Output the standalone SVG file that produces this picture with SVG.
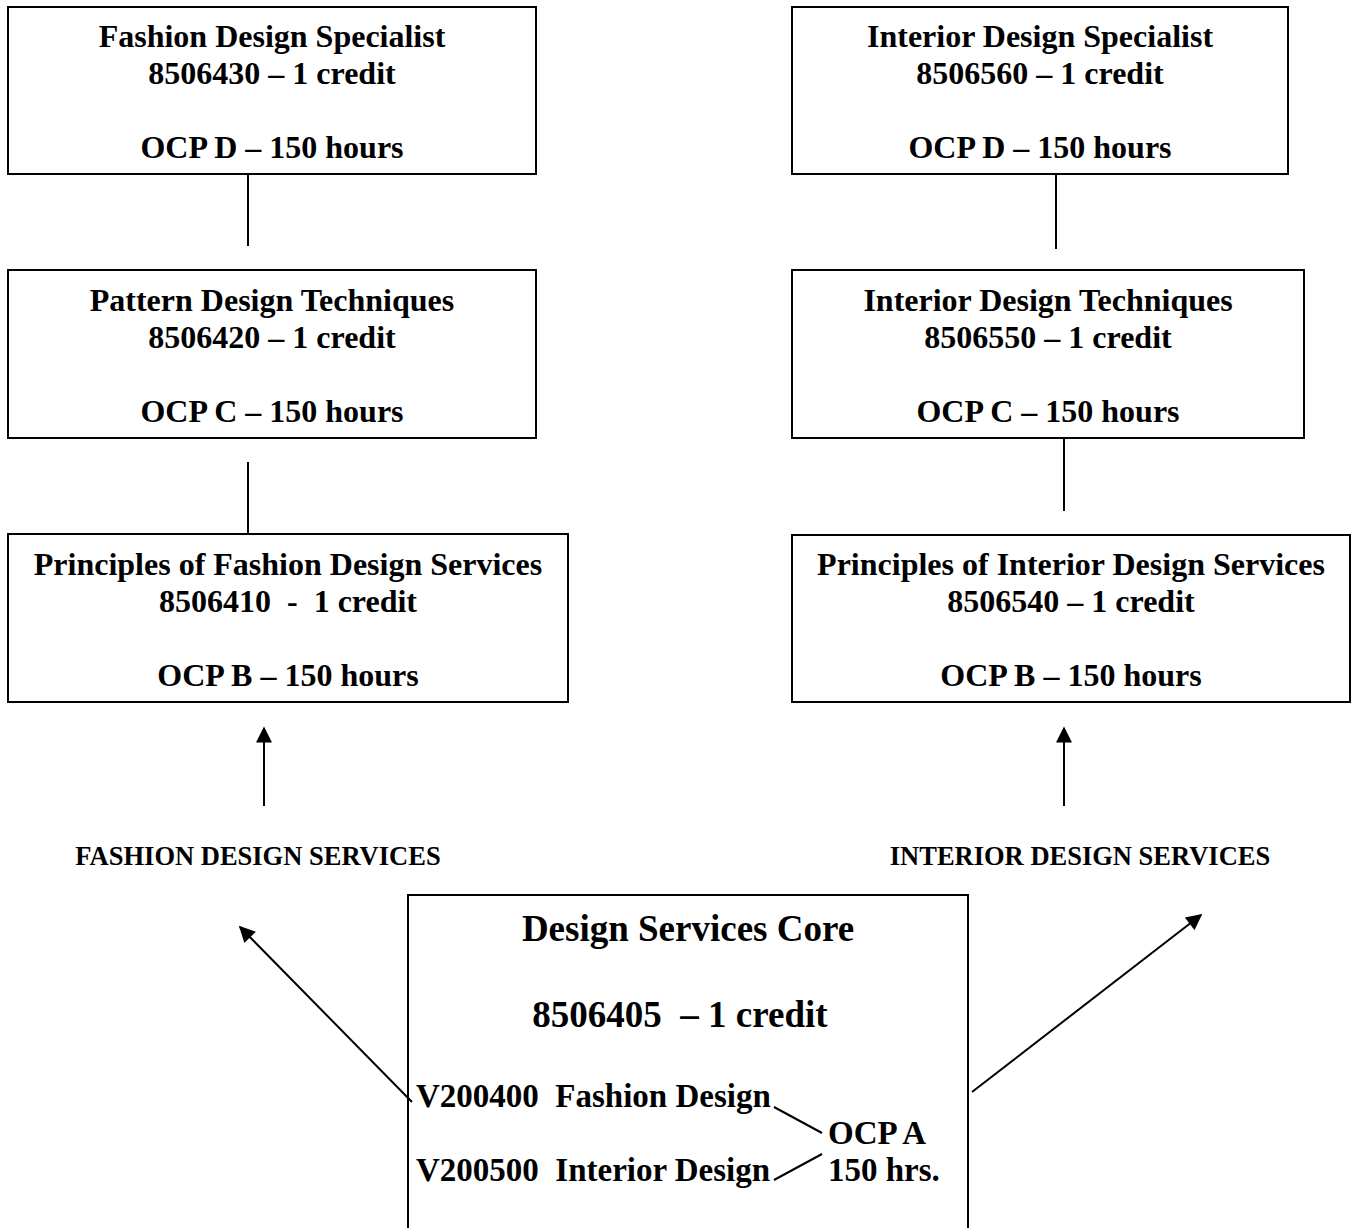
<svg xmlns="http://www.w3.org/2000/svg" width="1352" height="1228" viewBox="0 0 1352 1228">
<defs>
<style>
.box{fill:#fff;stroke:#000;stroke-width:2}
.t{font-family:"Liberation Serif","Times New Roman",serif;font-weight:bold;font-size:32px;fill:#000;text-anchor:middle}
.h{font-family:"Liberation Serif","Times New Roman",serif;font-weight:bold;font-size:26.5px;fill:#000;text-anchor:middle}
.c{font-family:"Liberation Serif","Times New Roman",serif;font-weight:bold;font-size:37px;fill:#000;text-anchor:middle}
.l{font-family:"Liberation Serif","Times New Roman",serif;font-weight:bold;font-size:33px;fill:#000}
.ln{stroke:#000;stroke-width:2;fill:none}
</style>
<marker id="ah" viewBox="0 0 10 10" refX="9" refY="5" markerWidth="8.5" markerHeight="8" markerUnits="strokeWidth" orient="auto">
<path d="M0,0 L10,5 L0,10 z" fill="#000"/>
</marker>
</defs>
<rect width="1352" height="1228" fill="#fff"/>
<g id="fashion-specialist">
<rect class="box" x="8" y="7" width="528" height="167"/>
<text class="t" x="272" y="47">Fashion Design Specialist</text>
<text class="t" x="272" y="84">8506430 – 1 credit</text>
<text class="t" x="272" y="158">OCP D – 150 hours</text>
</g>
<g id="pattern-design">
<rect class="box" x="8" y="270" width="528" height="168"/>
<text class="t" x="272" y="311">Pattern Design Techniques</text>
<text class="t" x="272" y="348">8506420 – 1 credit</text>
<text class="t" x="272" y="422">OCP C – 150 hours</text>
</g>
<g id="principles-fashion">
<rect class="box" x="8" y="534" width="560" height="168"/>
<text class="t" x="288" y="575">Principles of Fashion Design Services</text>
<text class="t" x="288" y="612" xml:space="preserve">8506410  -  1 credit</text>
<text class="t" x="288" y="686">OCP B – 150 hours</text>
</g>
<g id="interior-specialist">
<rect class="box" x="792" y="7" width="496" height="167"/>
<text class="t" x="1040" y="47">Interior Design Specialist</text>
<text class="t" x="1040" y="84">8506560 – 1 credit</text>
<text class="t" x="1040" y="158">OCP D – 150 hours</text>
</g>
<g id="interior-techniques">
<rect class="box" x="792" y="270" width="512" height="168"/>
<text class="t" x="1048" y="311">Interior Design Techniques</text>
<text class="t" x="1048" y="348">8506550 – 1 credit</text>
<text class="t" x="1048" y="422">OCP C – 150 hours</text>
</g>
<g id="principles-interior">
<rect class="box" x="792" y="535" width="558" height="167"/>
<text class="t" x="1071" y="575">Principles of Interior Design Services</text>
<text class="t" x="1071" y="612">8506540 – 1 credit</text>
<text class="t" x="1071" y="686">OCP B – 150 hours</text>
</g>
<g id="label-fashion">
<text class="h" x="258" y="865">FASHION DESIGN SERVICES</text>
</g>
<g id="label-interior">
<text class="h" x="1080" y="865">INTERIOR DESIGN SERVICES</text>
</g>
<g id="core">
<rect class="box" x="408" y="895" width="560" height="345"/>
<text class="c" x="688" y="941">Design Services Core</text>
<text class="c" x="680" y="1027" xml:space="preserve">8506405  – 1 credit</text>
<text class="l" x="416" y="1107" xml:space="preserve">V200400  Fashion Design</text>
<text class="l" x="416" y="1181" xml:space="preserve">V200500  Interior Design</text>
<text class="l" x="828" y="1144">OCP A</text>
<text class="l" x="828" y="1181">150 hrs.</text>
<line class="ln" x1="774" y1="1107" x2="822" y2="1133"/>
<line class="ln" x1="774" y1="1180" x2="822" y2="1154"/>
</g>
<g id="connectors">
<line class="ln" x1="248" y1="174" x2="248" y2="246"/>
<line class="ln" x1="248" y1="462" x2="248" y2="534"/>
<line class="ln" x1="1056" y1="174" x2="1056" y2="249"/>
<line class="ln" x1="1064" y1="438" x2="1064" y2="511"/>
<line class="ln" x1="264" y1="806" x2="264" y2="728" marker-end="url(#ah)"/>
<line class="ln" x1="1064" y1="806" x2="1064" y2="728" marker-end="url(#ah)"/>
<line class="ln" x1="412" y1="1102" x2="240" y2="927" marker-end="url(#ah)"/>
<line class="ln" x1="972" y1="1092" x2="1201" y2="915" marker-end="url(#ah)"/>
</g>
</svg>
